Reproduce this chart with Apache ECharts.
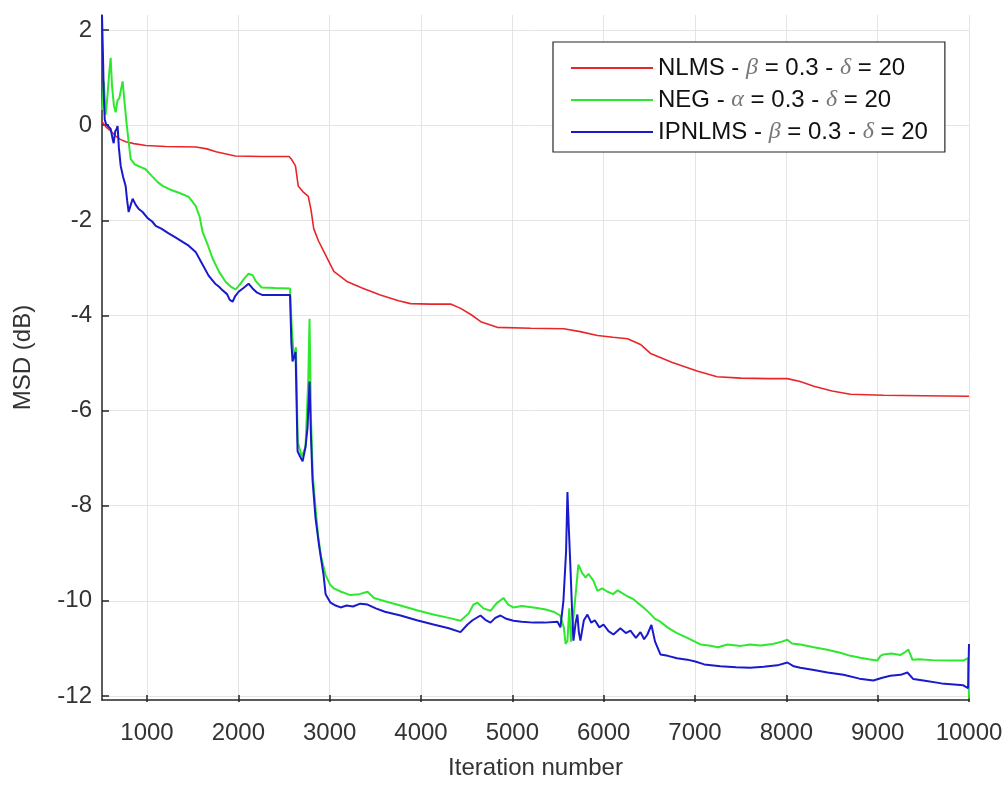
<!DOCTYPE html>
<html>
<head>
<meta charset="utf-8">
<script src="https://cdn.jsdelivr.net/npm/echarts@6/dist/echarts.min.js"></script>
<style>
  html, body { margin: 0; padding: 0; background: #fff; }
  #main { width: 1008px; height: 785px; }
</style>
</head>
<body>
<div id="main"></div>
<script>
// [iteration, MSD dB]
const nlms = [
    [500, 0.05], [540, -0.05], [600, -0.15], [650, -0.25], [700, -0.32], [760, -0.37],
    [850, -0.41], [980, -0.45], [1200, -0.47], [1530, -0.48], [1650, -0.52], [1750, -0.58],
    [1960, -0.67], [2250, -0.68], [2550, -0.68], [2580, -0.75], [2620, -0.88], [2650, -1.3],
    [2700, -1.42], [2760, -1.52], [2790, -1.8], [2820, -2.2], [2870, -2.45], [2930, -2.68],
    [3040, -3.1], [3190, -3.32], [3350, -3.45], [3550, -3.6], [3750, -3.72], [3880, -3.78],
    [4100, -3.79], [4320, -3.79], [4430, -3.88], [4550, -4.02], [4650, -4.16], [4830, -4.28],
    [5200, -4.3], [5560, -4.31], [5740, -4.37], [5930, -4.45], [6100, -4.49], [6260, -4.52],
    [6400, -4.64], [6510, -4.83], [6750, -5.02], [7020, -5.2], [7240, -5.32], [7500, -5.35],
    [7800, -5.36], [8010, -5.36], [8150, -5.42], [8300, -5.52], [8500, -5.62], [8700, -5.69],
    [9060, -5.71], [9500, -5.72], [10000, -5.73]
];

const neg = [
    [500, 0.3], [520, 0.9], [540, 0.2], [560, 0.6], [580, 1.1], [595, 1.4], [610, 0.8],
    [630, 0.4], [650, 0.25], [670, 0.5], [690, 0.55], [710, 0.75], [726, 0.9], [745, 0.5],
    [770, 0.0], [792, -0.37], [814, -0.73], [860, -0.85], [920, -0.9], [978, -0.95],
    [1050, -1.1], [1110, -1.22], [1164, -1.3], [1250, -1.38], [1350, -1.45], [1450, -1.53],
    [1526, -1.72], [1570, -1.95], [1602, -2.27], [1660, -2.55], [1712, -2.83], [1780, -3.1],
    [1854, -3.32], [1910, -3.42], [1964, -3.48], [2010, -3.38], [2060, -3.25], [2106, -3.15],
    [2150, -3.18], [2183, -3.3], [2250, -3.44], [2400, -3.45], [2560, -3.46], [2580, -4.3],
    [2600, -4.9], [2625, -4.7], [2645, -6.7], [2690, -7.0], [2730, -6.8], [2760, -5.4],
    [2774, -4.1], [2790, -6.2], [2810, -7.4], [2840, -8.1], [2870, -8.7], [2900, -9.1],
    [2950, -9.5], [3000, -9.7], [3040, -9.78], [3120, -9.85], [3220, -9.92], [3320, -9.9],
    [3410, -9.85], [3480, -9.98], [3600, -10.05], [3770, -10.14], [3950, -10.24], [4130, -10.33],
    [4300, -10.4], [4430, -10.46], [4520, -10.3], [4570, -10.12], [4614, -10.08], [4680, -10.2],
    [4757, -10.25], [4820, -10.1], [4899, -9.98], [4950, -10.12], [5009, -10.18], [5100, -10.15],
    [5228, -10.18], [5350, -10.22], [5447, -10.27], [5520, -10.35], [5560, -10.6], [5580, -10.95],
    [5600, -10.88], [5620, -10.2], [5640, -10.9], [5660, -10.5], [5690, -9.9], [5720, -9.28],
    [5760, -9.45], [5800, -9.55], [5830, -9.47], [5885, -9.62], [5929, -9.83], [5980, -9.78],
    [6040, -9.85], [6100, -9.9], [6150, -9.82], [6200, -9.88], [6260, -9.95], [6320, -10.0],
    [6380, -10.1], [6433, -10.18], [6500, -10.3], [6560, -10.42], [6619, -10.48], [6695, -10.6],
    [6800, -10.72], [6914, -10.82], [7057, -10.96], [7150, -10.98], [7250, -11.02], [7353, -10.96],
    [7500, -10.99], [7600, -10.96], [7714, -10.98], [7850, -10.95], [7950, -10.9], [8010, -10.86],
    [8060, -10.94], [8152, -10.96], [8300, -11.02], [8448, -11.07], [8600, -11.14], [8700, -11.2],
    [8810, -11.24], [8900, -11.27], [8996, -11.3], [9030, -11.2], [9062, -11.17], [9150, -11.15],
    [9250, -11.18], [9300, -11.12], [9336, -11.07], [9380, -11.28], [9450, -11.27], [9600, -11.29],
    [9800, -11.3], [9937, -11.3], [9990, -11.25], [10000, -12.1]
];

const ipnlms = [
    [500, 2.3], [510, 1.5], [520, 0.6], [530, 0.1], [545, 0.0], [570, -0.05], [595, -0.1],
    [615, -0.3], [628, -0.4], [645, -0.15], [660, -0.1], [671, -0.04], [685, -0.5], [705, -0.88],
    [730, -1.1], [759, -1.3], [775, -1.6], [792, -1.85], [815, -1.7], [836, -1.57], [870, -1.7],
    [900, -1.78], [945, -1.85], [1000, -1.98], [1050, -2.05], [1088, -2.14], [1150, -2.2],
    [1230, -2.3], [1300, -2.38], [1383, -2.48], [1450, -2.56], [1526, -2.69], [1600, -2.95],
    [1668, -3.19], [1740, -3.36], [1780, -3.42], [1821, -3.5], [1870, -3.58], [1900, -3.7],
    [1931, -3.74], [1960, -3.62], [1997, -3.53], [2050, -3.45], [2106, -3.36], [2150, -3.46],
    [2200, -3.55], [2260, -3.6], [2400, -3.6], [2560, -3.6], [2575, -4.6], [2588, -5.0],
    [2605, -4.9], [2621, -4.8], [2643, -6.89], [2670, -7.0], [2698, -7.1], [2730, -6.8],
    [2752, -6.4], [2774, -5.42], [2790, -6.6], [2807, -7.5], [2840, -8.3], [2880, -8.9],
    [2928, -9.5], [2950, -9.9], [3004, -10.08], [3060, -10.14], [3114, -10.18], [3180, -10.14],
    [3250, -10.16], [3330, -10.1], [3410, -10.12], [3500, -10.2], [3600, -10.27], [3771, -10.35],
    [3950, -10.45], [4132, -10.54], [4300, -10.62], [4428, -10.7], [4505, -10.54], [4560, -10.45],
    [4647, -10.35], [4700, -10.44], [4757, -10.5], [4810, -10.4], [4866, -10.35], [4930, -10.42],
    [5009, -10.46], [5100, -10.48], [5228, -10.5], [5350, -10.5], [5491, -10.48], [5523, -10.6],
    [5556, -10.04], [5585, -9.0], [5600, -7.75], [5615, -8.5], [5633, -9.35], [5650, -10.2],
    [5666, -10.88], [5690, -10.5], [5709, -10.33], [5725, -10.7], [5742, -10.88], [5780, -10.45],
    [5819, -10.33], [5860, -10.5], [5900, -10.45], [5950, -10.6], [5995, -10.54], [6050, -10.68],
    [6104, -10.75], [6180, -10.62], [6240, -10.72], [6290, -10.67], [6350, -10.82], [6400, -10.7],
    [6440, -10.85], [6476, -10.75], [6520, -10.55], [6560, -10.9], [6619, -11.17], [6700, -11.2],
    [6800, -11.25], [6914, -11.28], [7000, -11.32], [7100, -11.38], [7276, -11.42], [7450, -11.44],
    [7600, -11.45], [7750, -11.43], [7900, -11.4], [8010, -11.34], [8080, -11.42], [8152, -11.45],
    [8300, -11.5], [8450, -11.55], [8624, -11.6], [8800, -11.68], [8952, -11.72], [9050, -11.66],
    [9138, -11.62], [9250, -11.6], [9325, -11.55], [9390, -11.69], [9500, -11.72], [9700, -11.78],
    [9937, -11.82], [9990, -11.88], [10000, -10.95]
];

const seriesNames = ['NLMS', 'NEG', 'IPNLMS'];
const seriesColors = ['#e8262a', '#2ee82e', '#1a1acc'];
const legendLabels = {
    NLMS: '{t|NLMS - }{g|β}{t| = 0.3 - }{g|δ}{t| = 20}',
    NEG: '{t|NEG - }{g|α}{t| = 0.3 - }{g|δ}{t| = 20}',
    IPNLMS: '{t|IPNLMS - }{g|β}{t| = 0.3 - }{g|δ}{t| = 20}'
};
const xTicks = { min: 1000, max: 10000, step: 1000 };
const yTicks = { min: -12, max: 2, step: 2 };

const txt = '#333333';
const font = 'Liberation Sans';
const fs = 24;
const gridColor = '#e4e4e4';

const chart = echarts.init(document.getElementById('main'));

const lineSeries = [nlms, neg, ipnlms].map((d, i) => ({
    name: seriesNames[i],
    type: 'line',
    xAxisIndex: 0,
    yAxisIndex: 0,
    data: d,
    symbol: 'none',
    animation: false,
    lineStyle: { color: seriesColors[i], width: i === 0 ? 1.6 : 2 },
    itemStyle: { color: seriesColors[i] }
}));

const option = {
    backgroundColor: '#fff',
    animation: false,
    // grid 0 holds data, grid 1 the x ticks (from 1000), grid 2 the y ticks (-12..2)
    grid: [
        { left: 102, right: 39, top: 15, bottom: 83 },
        { left: 147, right: 39, top: 15, bottom: 83 },
        { left: 102, right: 39, top: 30, bottom: 89 }
    ],
    xAxis: [
        {
            gridIndex: 0, type: 'value', min: 500, max: 10000,
            name: 'Iteration number', nameLocation: 'middle', nameGap: 56,
            nameTextStyle: { color: txt, fontSize: fs, fontFamily: font },
            axisLine: { show: true, onZero: false, lineStyle: { color: '#262626', width: 1.5 } },
            axisTick: { show: false }, axisLabel: { show: false }, splitLine: { show: false }
        },
        {
            gridIndex: 1, type: 'value', min: xTicks.min, max: xTicks.max, interval: xTicks.step,
            axisLine: { show: false },
            axisTick: { show: true, inside: true, length: 7, lineStyle: { color: '#262626', width: 1.5 } },
            axisLabel: { color: txt, fontSize: fs, fontFamily: font, margin: 19, formatter: v => String(v) },
            splitLine: { show: true, lineStyle: { color: gridColor, width: 1 } }
        },
        { gridIndex: 2, type: 'value', show: false }
    ],
    yAxis: [
        {
            gridIndex: 0, type: 'value', min: -12.13, max: 2.3,
            name: 'MSD (dB)', nameLocation: 'middle', nameGap: 67,
            nameTextStyle: { color: txt, fontSize: fs, fontFamily: font },
            axisLine: { show: true, onZero: false, lineStyle: { color: '#262626', width: 1.5 } },
            axisTick: { show: false }, axisLabel: { show: false }, splitLine: { show: false }
        },
        { gridIndex: 1, type: 'value', show: false },
        {
            gridIndex: 2, type: 'value', min: yTicks.min, max: yTicks.max, interval: yTicks.step,
            axisLine: { show: false },
            axisTick: { show: true, inside: true, length: 7, lineStyle: { color: '#262626', width: 1.5 } },
            axisLabel: { color: txt, fontSize: fs, fontFamily: font, margin: 10 },
            splitLine: { show: true, lineStyle: { color: gridColor, width: 1 } }
        }
    ],
    legend: {
        orient: 'vertical',
        left: 553,
        top: 42,
        data: seriesNames,
        icon: 'rect',
        itemWidth: 82,
        itemHeight: 2,
        itemGap: 8,
        padding: [14, 17, 8, 18],
        backgroundColor: '#fff',
        borderColor: '#262626',
        borderWidth: 1.2,
        formatter: name => legendLabels[name],
        textStyle: {
            color: '#111',
            fontSize: fs,
            fontFamily: font,
            lineHeight: 24,
            rich: {
                t: { fontSize: fs, fontFamily: font, color: '#111', lineHeight: 24 },
                g: { fontSize: fs, fontFamily: 'Liberation Serif', fontStyle: 'italic', color: '#777', lineHeight: 24 }
            }
        }
    },
    series: lineSeries
};

chart.setOption(option);
</script>
</body>
</html>
